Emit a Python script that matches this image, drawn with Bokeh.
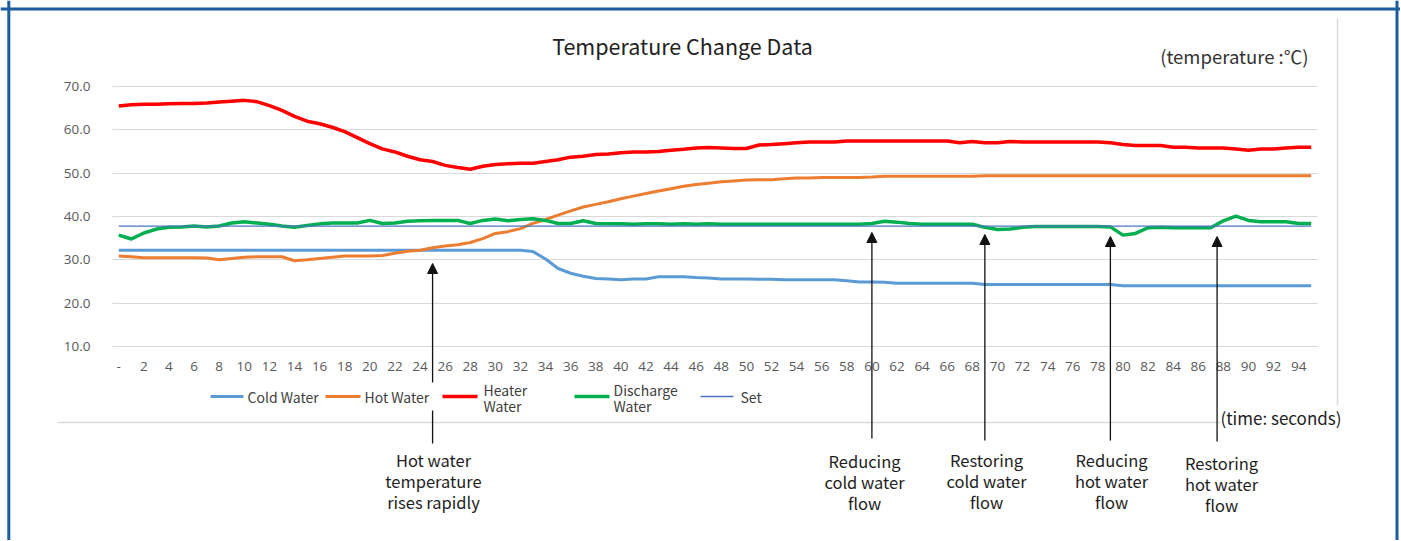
from bokeh.plotting import figure
from bokeh.models import (Range1d, FixedTicker, PrintfTickFormatter, Label, Arrow,
                          NormalHead, Span, BoxAnnotation)
from bokeh.embed import file_html
from bokeh.resources import INLINE

# ---------------- data ----------------
seconds = list(range(96))

cold_water = [
    32.2, 32.2, 32.2, 32.2, 32.2, 32.2, 32.2, 32.2, 32.2, 32.2,
    32.2, 32.2, 32.2, 32.2, 32.2, 32.2, 32.2, 32.2, 32.2, 32.2,
    32.2, 32.2, 32.2, 32.2, 32.2, 32.2, 32.2, 32.2, 32.2, 32.2,
    32.2, 32.2, 32.2, 31.9, 30.2, 28.0, 26.9, 26.2, 25.7, 25.6,
    25.4, 25.6, 25.6, 26.1, 26.1, 26.1, 25.9, 25.8, 25.6, 25.6,
    25.6, 25.5, 25.5, 25.4, 25.4, 25.4, 25.4, 25.4, 25.2, 24.9,
    24.9, 24.8, 24.6, 24.6, 24.6, 24.6, 24.6, 24.6, 24.6, 24.3,
    24.3, 24.3, 24.3, 24.3, 24.3, 24.3, 24.3, 24.3, 24.3, 24.3,
    24.0, 24.0, 24.0, 24.0, 24.0, 24.0, 24.0, 24.0, 24.0, 24.0,
    24.0, 24.0, 24.0, 24.0, 24.0, 24.0,
]

hot_water = [
    30.9, 30.7, 30.5, 30.5, 30.5, 30.5, 30.5, 30.4, 30.0, 30.3,
    30.6, 30.7, 30.7, 30.7, 29.8, 30.0, 30.3, 30.6, 30.9, 30.9,
    30.9, 31.0, 31.5, 32.0, 32.2, 32.8, 33.2, 33.5, 34.0, 34.9,
    36.1, 36.5, 37.2, 38.4, 39.3, 40.3, 41.3, 42.2, 42.8, 43.4,
    44.1, 44.7, 45.3, 45.9, 46.4, 47.0, 47.4, 47.7, 48.0, 48.2,
    48.4, 48.5, 48.5, 48.7, 48.9, 48.9, 49.0, 49.0, 49.0, 49.0,
    49.1, 49.3, 49.3, 49.3, 49.3, 49.3, 49.3, 49.3, 49.3, 49.4,
    49.4, 49.4, 49.4, 49.4, 49.4, 49.4, 49.4, 49.4, 49.4, 49.4,
    49.4, 49.4, 49.4, 49.4, 49.4, 49.4, 49.4, 49.4, 49.4, 49.4,
    49.4, 49.4, 49.4, 49.4, 49.4, 49.4,
]

heater_water = [
    65.5, 65.8, 65.9, 65.9, 66.0, 66.1, 66.1, 66.2, 66.4, 66.6,
    66.8, 66.5, 65.6, 64.5, 63.1, 62.0, 61.4, 60.6, 59.6, 58.2,
    56.8, 55.6, 54.9, 53.9, 53.1, 52.7, 51.8, 51.3, 50.9, 51.6,
    52.0, 52.2, 52.3, 52.3, 52.7, 53.1, 53.7, 53.9, 54.3, 54.4,
    54.7, 54.9, 54.9, 55.0, 55.3, 55.5, 55.8, 55.9, 55.8, 55.7,
    55.7, 56.5, 56.6, 56.8, 57.0, 57.2, 57.2, 57.2, 57.4, 57.4,
    57.4, 57.4, 57.4, 57.4, 57.4, 57.4, 57.4, 57.0, 57.3, 57.0,
    57.0, 57.3, 57.2, 57.2, 57.2, 57.2, 57.2, 57.2, 57.2, 57.0,
    56.6, 56.4, 56.4, 56.4, 56.0, 56.0, 55.8, 55.8, 55.8, 55.6,
    55.3, 55.6, 55.6, 55.8, 56.0, 56.0,
]

discharge_water = [
    35.7, 34.8, 36.2, 37.1, 37.5, 37.6, 37.8, 37.6, 37.8, 38.5,
    38.8, 38.5, 38.2, 37.8, 37.5, 37.9, 38.3, 38.5, 38.5, 38.5,
    39.1, 38.4, 38.5, 38.9, 39.0, 39.1, 39.1, 39.1, 38.4, 39.1,
    39.4, 39.0, 39.3, 39.5, 39.1, 38.4, 38.4, 39.0, 38.4, 38.3,
    38.3, 38.2, 38.3, 38.3, 38.2, 38.3, 38.2, 38.3, 38.2, 38.2,
    38.2, 38.2, 38.2, 38.2, 38.2, 38.2, 38.2, 38.2, 38.2, 38.2,
    38.4, 38.9, 38.7, 38.4, 38.2, 38.2, 38.2, 38.2, 38.2, 37.5,
    37.0, 37.1, 37.5, 37.7, 37.7, 37.7, 37.7, 37.7, 37.7, 37.6,
    35.7, 36.1, 37.4, 37.5, 37.4, 37.4, 37.4, 37.4, 39.0, 40.1,
    39.1, 38.8, 38.8, 38.8, 38.4, 38.4,
]

set_point = 37.8
set_water = [set_point for _ in seconds]

series_values = [cold_water, hot_water, heater_water, discharge_water, set_water]
series_labels = [["Cold Water"], ["Hot Water"], ["Heater", "Water"],
                 ["Discharge", "Water"], ["Set"]]

x_ticks = list(range(0, 95, 2))
x_tick_overrides = {0: "-"}
y_ticks = [10, 20, 30, 40, 50, 60, 70]

event_seconds = [25, 60, 69, 79, 87.5]
event_texts = [
    ["Hot water", "temperature", "rises rapidly"],
    ["Reducing", "cold water", "flow"],
    ["Restoring", "cold water", "flow"],
    ["Reducing", "hot water", "flow"],
    ["Restoring", "hot water", "flow"],
]

chart_title = "Temperature Change Data"
y_unit_text = "(temperature :℃)"
x_unit_text = "(time: seconds)"

# ---------------- styles ----------------
series_colors = ["#5b9bd5", "#ed7d31", "#ff0000", "#00b050", "#4a74c0"]
series_widths = [3, 3, 3.5, 3.5, 1.2]
TEXT_FONT = "Noto Sans CJK KR"
TICK_FONT = "Open Sans"
BORDER_COLOR = "#1a5c9c"
PANEL_LINE = "#d9d9d9"

# ---------------- layout (page pixels) ----------------
W, H = 1400, 540
OFF = 0
PLOT_L, PLOT_R, PLOT_T, PLOT_B = 112, 1317, 86, 346
X0, X1 = -0.5, 95.5
Y0, Y1 = 10, 70
SX = (PLOT_R - PLOT_L) / (X1 - X0)
SY = (PLOT_B - PLOT_T) / (Y1 - Y0)


def dx(px):
    return X0 + (px - PLOT_L) / SX


def dy(py):
    return Y0 + (PLOT_B - py) / SY


p = figure(width=W, height=H,
           x_range=Range1d(dx(OFF), dx(OFF + W)),
           y_range=Range1d(dy(OFF + H), dy(OFF)),
           output_backend="svg", toolbar_location=None, min_border=0)
p.min_border_left = 0
p.min_border_right = 0
p.min_border_top = 0
p.min_border_bottom = 0
p.outline_line_color = None
p.background_fill_color = "white"
p.border_fill_color = "white"

# axes
xa = p.xaxis[0]
xa.fixed_location = Y0
xa.bounds = (X0, X1)
xa.ticker = FixedTicker(ticks=x_ticks)
xa.major_label_overrides = x_tick_overrides
xa.axis_line_color = None
xa.major_tick_line_color = None
xa.minor_tick_line_color = None
xa.major_label_standoff = 9
xa.major_label_text_font = TICK_FONT
xa.major_label_text_font_size = "13.5px"
xa.major_label_text_color = "#595959"

ya = p.yaxis[0]
ya.fixed_location = X0
ya.bounds = (Y0, Y1)
ya.ticker = FixedTicker(ticks=y_ticks)
ya.formatter = PrintfTickFormatter(format="%.1f")
ya.axis_line_color = None
ya.major_tick_line_color = None
ya.minor_tick_line_color = None
ya.major_label_standoff = 16
ya.major_label_text_font = TICK_FONT
ya.major_label_text_font_size = "13.5px"
ya.major_label_text_color = "#595959"

p.xgrid.visible = False
g = p.ygrid[0]
g.ticker = FixedTicker(ticks=y_ticks)
g.grid_line_color = PANEL_LINE
g.grid_line_width = 1
if "cross_bounds" in g.properties():
    g.cross_bounds = (X0, X1)
else:
    g.visible = False
    p.segment(x0=[X0] * len(y_ticks), x1=[X1] * len(y_ticks), y0=y_ticks, y1=y_ticks,
              line_color=PANEL_LINE, line_width=1)

# series
for ys, color, width in zip(series_values, series_colors, series_widths):
    p.line(seconds, ys, line_color=color, line_width=width, line_join="round")

# outer border
p.add_layout(Span(location=dx(8.3), dimension="height", line_color=BORDER_COLOR, line_width=3))
p.add_layout(Span(location=dy(8.5), dimension="width", line_color=BORDER_COLOR, line_width=3))
p.add_layout(Span(location=dx(1396.5), dimension="height", line_color=BORDER_COLOR, line_width=3))

# chart-area edge lines
p.add_layout(Arrow(end=None, x_start=dx(1337), y_start=dy(18), x_end=dx(1337), y_end=dy(410),
                   line_color=PANEL_LINE, line_width=1.5))
p.add_layout(Arrow(end=None, x_start=dx(57), y_start=dy(422), x_end=dx(1337), y_end=dy(422),
                   line_color=PANEL_LINE, line_width=1.5))

# event arrows
tip_py = [263, 232, 234, 236, 236]
tail_py = [443, 438, 440, 440, 441]
for s, tp, tl in zip(event_seconds, tip_py, tail_py):
    p.add_layout(Arrow(end=NormalHead(size=10, fill_color="#111111", line_color="#111111", line_width=1),
                       x_start=s, y_start=dy(tl), x_end=s, y_end=dy(tp),
                       line_color="#111111", line_width=1.3))

# legend (white box over arrows, then samples and labels)
p.add_layout(BoxAnnotation(left=dx(205), right=dx(762), top=dy(382), bottom=dy(410),
                           fill_color="white", fill_alpha=1, line_color=None))
leg_line = [(210, 243), (325, 360), (442, 477), (574, 609), (700, 733)]
leg_text_x = [247, 364, 483, 613, 740]
LEG_Y = 396
for (a, b), tx, lines, color, width in zip(leg_line, leg_text_x, series_labels,
                                           series_colors, series_widths):
    p.add_layout(Arrow(end=None, x_start=dx(a), y_start=dy(LEG_Y), x_end=dx(b), y_end=dy(LEG_Y),
                       line_color=color, line_width=max(width, 1.5)))
    if len(lines) == 1:
        ys_px = [LEG_Y]
    else:
        ys_px = [389.5, 405.5]
    for t, ypx in zip(lines, ys_px):
        p.add_layout(Label(x=dx(tx), y=dy(ypx), text=t, text_align="left",
                           text_baseline="middle", text_font=TEXT_FONT,
                           text_font_size="14px", text_color="#404040"))

# event texts
text_cx = [433, 864, 986, 1111, 1221]
text_top = [459, 460, 459, 459, 462]
LINE_GAP = 21
for cx, ty, lines in zip(text_cx, text_top, event_texts):
    for k, t in enumerate(lines):
        p.add_layout(Label(x=dx(cx), y=dy(ty + k * LINE_GAP), text=t, text_align="center",
                           text_baseline="middle", text_font=TEXT_FONT,
                           text_font_size="16.5px", text_color="#1e1e1e"))

# title and units
p.add_layout(Label(x=dx(682), y=dy(45), text=chart_title, text_align="center",
                   text_baseline="middle", text_font=TEXT_FONT, text_font_size="21.5px",
                   text_color="#222222"))
p.add_layout(Label(x=dx(1308), y=dy(55), text=y_unit_text, text_align="right",
                   text_baseline="middle", text_font=TEXT_FONT, text_font_size="18.5px",
                   text_color="#333333"))
p.add_layout(Label(x=dx(1341), y=dy(417), text=x_unit_text, text_align="right",
                   text_baseline="middle", text_font=TEXT_FONT, text_font_size="17px",
                   text_color="#222222", background_fill_color="white", background_fill_alpha=1))

with open("out.html", "w", encoding="utf-8") as f:
    f.write(file_html(p, INLINE, title=chart_title))
